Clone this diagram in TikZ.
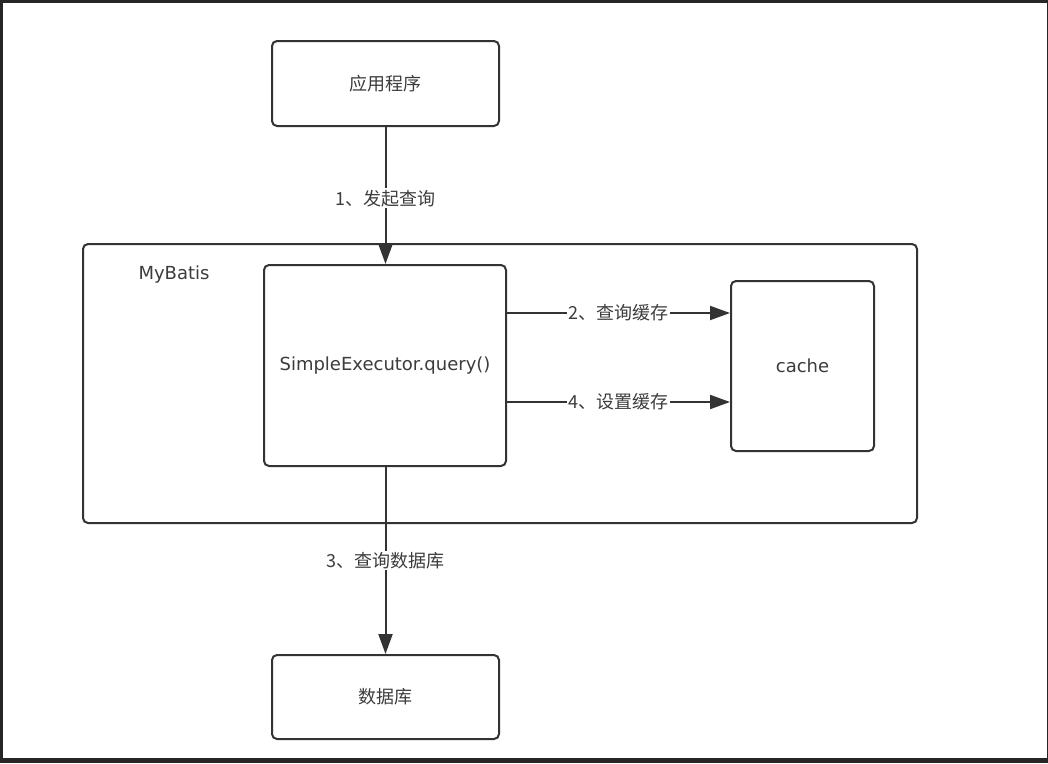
\documentclass[tikz,border=0pt]{standalone}
\usepackage{fontspec}
\setmainfont{Noto Sans CJK SC}
\newfontfamily\latinfont{DejaVu Sans}
\usetikzlibrary{arrows.meta}
\definecolor{ink}{HTML}{333333}
\definecolor{txt}{HTML}{3C3C3C}
\definecolor{frame}{HTML}{262626}
\tikzset{
  box/.style={draw=ink, line width=2pt, rounded corners=5pt, fill=white, inner sep=0pt},
  arr/.style={draw=ink, line width=2pt, -{Triangle[length=20pt,width=14pt]}},
  lbl/.style={fill=white, text=txt, font=\fontsize{18}{21}\selectfont, inner sep=1.5pt},
  btxt/.style={text=txt, font=\fontsize{18}{21}\selectfont},
  ltxt/.style={text=txt, font=\latinfont\fontsize{18}{21}\selectfont}
}
\begin{document}
\begin{tikzpicture}[x=1pt,y=-1pt]
\fill[frame] (0,0) rectangle (1048,763);
\fill[white] (3,3) rectangle (1047,758);
\useasboundingbox (0,0) rectangle (1048,763);

\node[box, minimum width=834pt, minimum height=279pt] (mybatis) at (500,383.5) {};
\node[ltxt, anchor=center] (mblabel) at (174,275) {MyBatis};

\node[box, minimum width=227pt, minimum height=85pt, btxt] (app) at (385.5,83.5) {应用程序};
\node[box, minimum width=242pt, minimum height=201pt, ltxt] (exec) at (385,365.5) {SimpleExecutor.query()};
\node[box, minimum width=143pt, minimum height=170pt, ltxt] (cache) at (802.5,366) {cache};
\node[box, minimum width=227pt, minimum height=84pt, btxt] (db) at (385.5,697) {数据库};

\draw[arr] (app.south) -- node[lbl, pos=0.52] (l1) {1、发起查询} (app.south |- exec.north);
\draw[arr] ([yshift=-49pt]exec.north east) -- node[lbl, pos=0.5] (l2) {2、查询缓存} ([yshift=-49pt]exec.north east -| cache.west);
\draw[arr] ([yshift=-138pt]exec.north east) -- node[lbl, pos=0.5] (l4) {4、设置缓存} ([yshift=-138pt]exec.north east -| cache.west);
\draw[arr] (exec.south -| app.south) -- node[lbl, pos=0.5] (l3) {3、查询数据库} (db.north);
\end{tikzpicture}
\end{document}
